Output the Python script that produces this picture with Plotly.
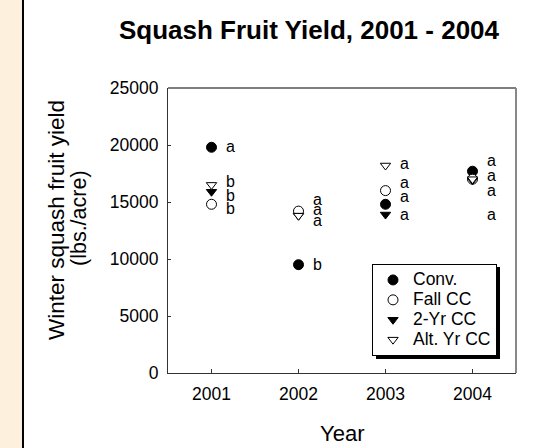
import plotly.graph_objects as go

# ---- data ----
years = [2001, 2002, 2003, 2004]
conv = [19800, 9500, 14800, 17700]
fall_cc = [14800, 14200, 16000, 17000]
two_yr_cc = [15900, 13800, 13900, 16900]
alt_yr_cc = [16500, 13800, 18200, 17000]

letters_2001 = ["a", "b", "b", "b"]
letters_2002 = ["a", "a", "a", "b"]
letters_2003 = ["a", "a", "a", "a"]
letters_2004 = ["a", "a", "a", "a"]
letter_y_2001 = [19900, 16800, 15600, 14400]
letter_y_2002 = [15200, 14300, 13400, 9500]
letter_y_2003 = [18400, 16700, 15500, 13900]
letter_y_2004 = [18600, 17300, 16000, 13900]

y_ticks = [0, 5000, 10000, 15000, 20000, 25000]

FONT = "Liberation Sans, Arial, sans-serif"


def legend_name(s):
    return '<span style="font-size:17.5px">' + s + "</span>"


fig = go.Figure()
series = [
    ("Conv.", conv, "circle", "black", 10),
    ("Fall CC", fall_cc, "circle", "white", 10),
    ("2-Yr CC", two_yr_cc, "triangle-down", "black", 9),
    ("Alt. Yr CC", alt_yr_cc, "triangle-down", "white", 9),
]
for name, vals, sym, fill, size in series:
    fig.add_trace(go.Scatter(
        x=years, y=vals, mode="markers", name=legend_name(name),
        marker=dict(symbol=sym, color=fill, size=size,
                    line=dict(color="black", width=1)),
    ))

annotations = []
for yr, letters, ys in [(2001, letters_2001, letter_y_2001),
                        (2002, letters_2002, letter_y_2002),
                        (2003, letters_2003, letter_y_2003),
                        (2004, letters_2004, letter_y_2004)]:
    for t, yv in zip(letters, ys):
        annotations.append(dict(x=yr + 0.14, y=yv, xref="x", yref="y", text=t,
                                showarrow=False, xanchor="left", yanchor="middle",
                                font=dict(family=FONT, size=16, color="black")))

# y-axis title (two lines)
annotations.append(dict(x=(56 - 168) / 348, y=(373 - 220) / 285, xref="paper", yref="paper",
                        text="Winter squash fruit yield",
                        textangle=-90, showarrow=False, xanchor="center", yanchor="middle",
                        font=dict(family=FONT, size=22.5, color="black")))
annotations.append(dict(x=(79 - 168) / 348, y=(373 - 218) / 285, xref="paper", yref="paper",
                        text="(lbs./acre)",
                        textangle=-90, showarrow=False, xanchor="center", yanchor="middle",
                        font=dict(family=FONT, size=21.5, color="black")))
# x-axis title
annotations.append(dict(x=0.5, y=(373 - 433) / 285, xref="paper", yref="paper", text="Year",
                        showarrow=False, xanchor="center", yanchor="middle",
                        font=dict(family=FONT, size=22, color="black")))

shapes = [
    # cream strip at left
    dict(type="rect", xref="paper", yref="paper", x0=-0.4828, x1=-0.4195, y0=-0.27, y1=1.32,
         fillcolor="#FDF0DC", line=dict(width=0), layer="below"),
    dict(type="line", xref="paper", yref="paper", x0=-0.4167, x1=-0.4167, y0=-0.27, y1=1.32,
         line=dict(color="black", width=2)),
    # top and right frame
    dict(type="line", xref="paper", yref="paper", x0=0, x1=1, y0=1, y1=1,
         line=dict(color="#555555", width=1.5)),
    dict(type="line", xref="paper", yref="paper", x0=1, x1=1, y0=0, y1=1,
         line=dict(color="#888888", width=2)),
    # legend shadow
    dict(type="rect", xref="paper", yref="paper",
         x0=(376 - 168) / 348, x1=(500 - 168) / 348,
         y0=(373 - 359) / 285, y1=(373 - 267) / 285,
         fillcolor="black", line=dict(width=0), layer="above"),
]

fig.update_layout(
    width=554, height=448,
    margin=dict(l=168, r=38, t=88, b=75),
    paper_bgcolor="white", plot_bgcolor="white",
    font=dict(family=FONT, color="black"),
    title=dict(text="<b>Squash Fruit Yield, 2001 - 2004</b>", xref="container", yref="container",
               x=309 / 554, y=1 - 30 / 448, xanchor="center", yanchor="middle",
               font=dict(family=FONT, size=26, color="black")),
    xaxis=dict(range=[2000.5, 2004.5], tickvals=years, ticktext=[str(y) for y in years],
               showgrid=False, zeroline=False, showline=True, linecolor="#333333", linewidth=1,
               ticks="inside", ticklen=4, tickcolor="#333333",
               tickfont=dict(family=FONT, size=17.5, color="black"), ticklabelstandoff=5),
    yaxis=dict(range=[0, 25000], tickvals=y_ticks, ticktext=[str(v) for v in y_ticks],
               showgrid=False, zeroline=False, showline=True, linecolor="#333333", linewidth=1,
               ticks="inside", ticklen=3, tickcolor="#333333",
               tickfont=dict(family=FONT, size=17.5, color="black"), ticklabelstandoff=5),
    legend=dict(x=(372 - 168) / 348, y=(373 - 264) / 285, xanchor="left", yanchor="top",
                bgcolor="white", bordercolor="black", borderwidth=1,
                font=dict(family=FONT, size=13, color="black"), tracegroupgap=0),
    showlegend=True,
    annotations=annotations,
    shapes=shapes,
)

fig.write_html("out.html", config={"displayModeBar": False},
               post_script="document.body.style.margin='0px';")
